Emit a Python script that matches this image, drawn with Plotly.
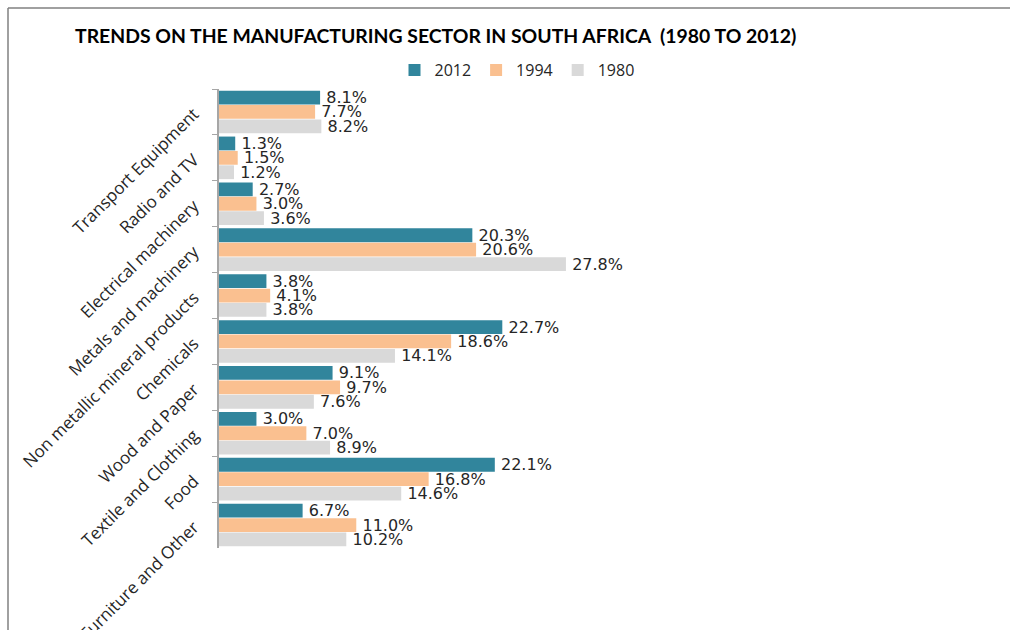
import plotly.graph_objects as go

categories = ["Transport Equipment", "Radio and TV", "Electrical machinery",
              "Metals and machinery", "Non metallic mineral products", "Chemicals",
              "Wood and Paper", "Textile and Clothing", "Food", "Furniture and Other"]
v2012 = [8.1, 1.3, 2.7, 20.3, 3.8, 22.7, 9.1, 3.0, 22.1, 6.7]
v1994 = [7.7, 1.5, 3.0, 20.6, 4.1, 18.6, 9.7, 7.0, 16.8, 11.0]
v1980 = [8.2, 1.2, 3.6, 27.8, 3.8, 14.1, 7.6, 8.9, 14.6, 10.2]
series = [("2012", v2012, "#31859C"), ("1994", v1994, "#FAC090"), ("1980", v1980, "#D9D9D9")]

fig = go.Figure()
for name, vals, col in series:
    fig.add_trace(go.Bar(
        y=categories, x=vals, name=name, orientation="h",
        marker=dict(color=col, line=dict(width=0)),
        text=[f"\u2009{v:.1f}%" for v in vals], textposition="outside",
        constraintext="none",
        textfont=dict(family="DejaVu Sans", size=16, color="#262626"),
        cliponaxis=False,
    ))

L, R, T, B = 219, 10, 89, 82
W, H = 1010, 630
pw, ph = W - L - R, H - T - B
ppx = 12.48  # pixels per percent

def px(x):
    return (x - L) / pw

def py(y):
    return (H - B - y) / ph

fig.update_layout(
    width=W, height=H,
    margin=dict(l=L, r=R, t=T, b=B, autoexpand=False),
    paper_bgcolor="white", plot_bgcolor="white",
    barmode="group", bargap=0.06, bargroupgap=0.04,
    title=dict(text="<b>TRENDS ON THE MANUFACTURING SECTOR IN SOUTH AFRICA  (1980 TO 2012)</b>",
               x=75 / W, xanchor="left", y=1 - 36 / H, yanchor="middle",
               font=dict(family="Lato", size=19.4, color="#000000")),
    legend=dict(orientation="h", x=px(517), xanchor="center", y=1 - 70 / H, yanchor="middle",
                yref="container", font=dict(family="Open Sans", size=16, color="#262626"),
                traceorder="normal"),
    showlegend=True,
    xaxis=dict(range=[0, pw / ppx], visible=False, showgrid=False, zeroline=False),
    yaxis=dict(autorange="reversed", showline=True, linecolor="#A6A6A6", linewidth=1.5,
               ticks="outside", tickson="boundaries", ticklen=5, tickcolor="#A6A6A6",
               tickangle=-45, showgrid=False, ticklabelstandoff=20,
               tickfont=dict(family="Open Sans", size=17, color="#262626")),
    shapes=[
        dict(type="line", xref="paper", yref="paper", x0=px(8), x1=px(1010), y0=py(8), y1=py(8),
             line=dict(color="#808080", width=1.5)),
        dict(type="line", xref="paper", yref="paper", x0=px(8), x1=px(8), y0=py(8), y1=py(630),
             line=dict(color="#808080", width=1.5)),
    ],
)

fig.write_html("out.html")
